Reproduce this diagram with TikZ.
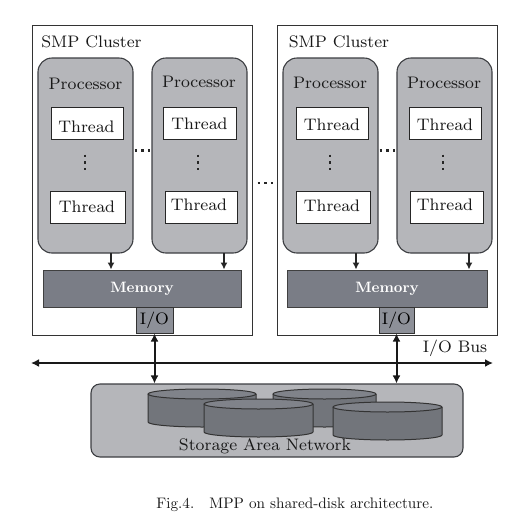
\documentclass[tikz,border=0pt]{standalone}
\usetikzlibrary{arrows.meta}
\definecolor{procgray}{HTML}{B5B6BA}
\definecolor{memgray}{HTML}{7A7D86}
\definecolor{iogray}{HTML}{8D9098}
\definecolor{diskgray}{HTML}{72757B}
\definecolor{disktop}{HTML}{80838A}
\definecolor{edgegray}{HTML}{3C3E42}
\font\lblfont=cmr8 at 16.7pt
\font\memfont=cmbx10 at 15pt
\font\capfont=cmr10 at 15.2pt
\tikzset{
	lbl/.style={text=black!90, inner sep=0pt, font=\lblfont},
	clusterbox/.style={draw=black!80, line width=1pt, inner sep=0pt},
	procbox/.style={draw=edgegray, fill=procgray, line width=1.1pt, rounded corners=14pt, inner sep=0pt, minimum width=95pt, minimum height=195pt},
	threadbox/.style={draw=black!85, fill=white, line width=1pt, inner sep=0pt, minimum height=32pt},
	membox/.style={draw=black!75, fill=memgray, line width=1pt, inner sep=0pt, minimum height=37pt, text=white, font=\memfont},
	iobox/.style={draw=black!80, fill=iogray, line width=1pt, inner sep=0pt, minimum height=26pt, font=\lblfont},
	sanbox/.style={draw=edgegray, fill=procgray, line width=1.1pt, rounded corners=9pt, inner sep=0pt},
	feed/.style={-{Latex[length=7pt,width=7pt]}, line width=1.3pt, draw=black!85},
	busline/.style={{Latex[length=8pt,width=8pt]}-{Latex[length=8pt,width=8pt]}, line width=2pt, draw=black!90},
	dotrow/.style={line width=2.6pt, draw=black!85, dash pattern=on 2.6pt off 4pt},
	disk/.style={draw=black!80, fill=diskgray, line width=1pt}
}
\def\diskat(#1:#2:#3:#4){%
	\draw[disk] (#1,#3) -- (#1,#4) arc (180:0:{(#2-#1)/2} and 5) -- (#2,#3);
	\draw[disk, fill=disktop] ({(#1+#2)/2},#3) ellipse ({(#2-#1)/2} and 5);}
\begin{document}
\begin{tikzpicture}[x=1pt,y=-1pt]
	%%%%% START %%%%%
	\useasboundingbox (0,0) rectangle (524,528);

	% left cluster
	\node[clusterbox, minimum width=220pt, minimum height=310pt] (clusterA) at (142,180) {};
	\node[lbl] (clusterAname) at (91.5,42) {SMP Cluster};
	\node[procbox] (procA) at (85.5,155.5) {};
	\node[procbox] (procB) at (199.5,155.5) {};
	\node[lbl] (procAname) at (85.5,84) {Processor};
	\node[lbl] (procBname) at (199,82) {Processor};

	\node[threadbox, minimum width=72pt] (threadA) at (87,123) {};
	\node[threadbox, minimum width=75pt] (threadB) at (87.5,207.5) {};
	\node[threadbox, minimum width=73pt] (threadC) at (199.5,123) {};
	\node[threadbox, minimum width=72pt] (threadD) at (201,207.5) {};
	\node[lbl] (threadAname) at (86.5,127) {Thread};
	\node[lbl] (threadBname) at (87,207) {Thread};
	\node[lbl] (threadCname) at (199.5,124) {Thread};
	\node[lbl] (threadDname) at (199,204.5) {Thread};

	\node[membox, minimum width=198pt] (memA) at (142,288.5) {Memory};
	\node[iobox, minimum width=37pt] (ioA) at (154.5,320) {I/O};

	\coordinate (outA) at (111,253);
	\coordinate (outB) at (224,253);
	\draw[feed] (outA) -- (outA |- memA.north);
	\draw[feed] (outB) -- (outB |- memA.north);

	\draw[dotrow] (134.6,150.5) -- (151,150.5);
	\draw[dotrow] (85,154.6) -- (85,171);
	\draw[dotrow] (198,154.6) -- (198,171);

	\draw[dotrow] (257.6,183) -- (274,183);

	% right cluster
	\node[clusterbox, minimum width=220pt, minimum height=310pt] (clusterB) at (387,180) {};
	\node[lbl] (clusterBname) at (339,42) {SMP Cluster};
	\node[procbox] (procC) at (330.5,155.5) {};
	\node[procbox] (procD) at (444.5,155.5) {};
	\node[lbl] (procCname) at (330,83) {Processor};
	\node[lbl] (procDname) at (444,83) {Processor};

	\node[threadbox, minimum width=72pt] (threadE) at (332,123) {};
	\node[threadbox, minimum width=74pt] (threadF) at (333,207.5) {};
	\node[threadbox, minimum width=72pt] (threadG) at (445,123) {};
	\node[threadbox, minimum width=73pt] (threadH) at (446.5,207.5) {};
	\node[lbl] (threadEname) at (332,125) {Thread};
	\node[lbl] (threadFname) at (332,206) {Thread};
	\node[lbl] (threadGname) at (445,125) {Thread};
	\node[lbl] (threadHname) at (445,205) {Thread};

	\node[membox, minimum width=200pt] (memB) at (387,288.5) {Memory};
	\node[iobox, minimum width=35pt] (ioB) at (396.5,320) {I/O};

	\coordinate (outC) at (356,253);
	\coordinate (outD) at (469,253);
	\draw[feed] (outC) -- (outC |- memB.north);
	\draw[feed] (outD) -- (outD |- memB.north);

	\draw[dotrow] (379.6,150.5) -- (396,150.5);
	\draw[dotrow] (330,154.6) -- (330,171);
	\draw[dotrow] (443,154.6) -- (443,171);

	% bus
	\coordinate (busL) at (31,363);
	\coordinate (busR) at (493,363);
	\draw[busline] (busL) -- (busR);
	\node[lbl] (busname) at (455,348) {I/O Bus};

	% storage
	\node[sanbox, minimum width=372pt, minimum height=73pt] (san) at (277,420.5) {};
	\draw[busline] (ioA.south) -- (ioA.south |- san.north);
	\draw[busline] (ioB.south) -- (ioB.south |- san.north);

	\diskat(148:256:394:422)
	\diskat(273:376:394:422)
	\diskat(204:313:404:432)
	\diskat(333:442:407:435)
	\node[lbl] (sanname) at (265,446) {Storage Area Network};

	\node[lbl, font=\capfont] (caption) at (295,505) {Fig.4.\ \ \ MPP on shared-disk architecture.};
	%%%%% END %%%%%
\end{tikzpicture}
\end{document}
